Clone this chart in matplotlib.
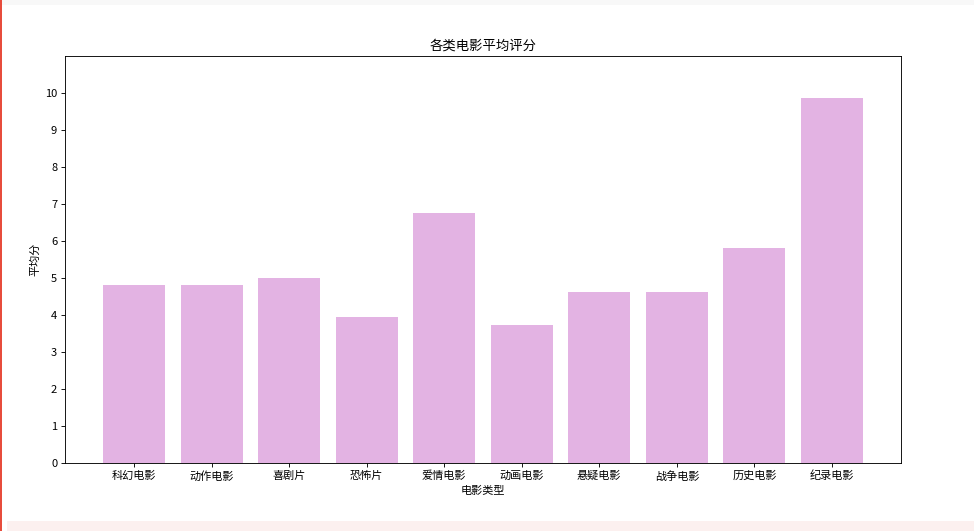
import matplotlib
matplotlib.use("Agg")
import matplotlib.pyplot as plt
from matplotlib.patches import Rectangle

plt.rcParams['font.family'] = ['Noto Sans CJK SC', 'DejaVu Sans']
plt.rcParams['axes.unicode_minus'] = False

# ---- data ----
categories = ["科幻电影", "动作电影", "喜剧片", "恐怖片", "爱情电影",
              "动画电影", "悬疑电影", "战争电影", "历史电影", "纪录电影"]
scores = [4.80, 4.80, 5.01, 3.94, 6.77, 3.72, 4.61, 4.61, 5.80, 9.87]
yticks = list(range(0, 11))

title = "各类电影平均评分"
xlabel = "电影类型"
ylabel = "平均分"

# ---- plot ----
W, H, DPI = 974, 531, 80
fig = plt.figure(figsize=(W / DPI, H / DPI), dpi=DPI)

# notebook screenshot edges
fig.add_artist(Rectangle((0, 1 - 5 / H), 1, 5 / H, transform=fig.transFigure,
                         color="#f8f8f8", lw=0, zorder=-1))
fig.add_artist(Rectangle((7 / W, 0), 1, 10 / H, transform=fig.transFigure,
                         color="#fcf0ef", lw=0, zorder=-1))
fig.add_artist(Rectangle((0, 0), 1.5 / W, 1, transform=fig.transFigure,
                         color="#e74c3c", lw=0, zorder=-1))

ax = fig.add_axes([65 / W, 68 / H, (901 - 65) / W, (463 - 56) / H])
ax.bar(categories, scores, color="plum", alpha=0.8)
ax.set_title(title)
ax.set_xlabel(xlabel)
ax.set_ylabel(ylabel)
ax.set_ylim(0, 11)
ax.set_yticks(yticks)

fig.savefig("out.png", dpi=DPI)
